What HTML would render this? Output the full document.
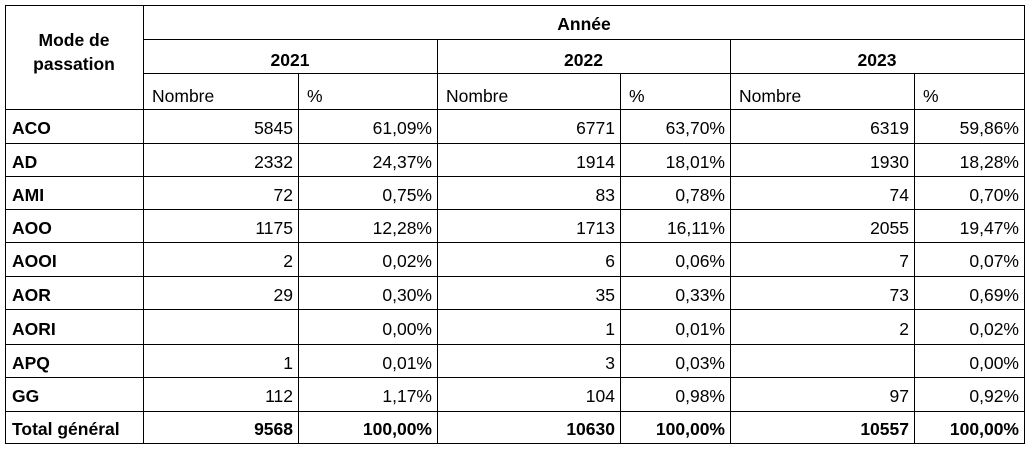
<!DOCTYPE html>
<html><head><meta charset="utf-8"><style>
body{margin:0;width:1032px;height:450px;background:#fff;position:relative;overflow:hidden;font-family:"Liberation Sans",Arial,sans-serif;font-size:17.5px;color:#000}
.h{position:absolute;height:1px;background:#000}
.v{position:absolute;width:1px;background:#000}
.t{position:absolute;line-height:20px;white-space:nowrap}
.b{font-weight:bold}
.r{text-align:right}
.c{text-align:center}
</style></head><body>
<div class="h" style="left:5px;top:5px;width:1020px"></div>
<div class="h" style="left:143px;top:39px;width:882px"></div>
<div class="h" style="left:143px;top:73px;width:882px"></div>
<div class="h" style="left:5px;top:109px;width:1020px"></div>
<div class="h" style="left:5px;top:143px;width:1020px"></div>
<div class="h" style="left:5px;top:176px;width:1020px"></div>
<div class="h" style="left:5px;top:209px;width:1020px"></div>
<div class="h" style="left:5px;top:242px;width:1020px"></div>
<div class="h" style="left:5px;top:276px;width:1020px"></div>
<div class="h" style="left:5px;top:309px;width:1020px"></div>
<div class="h" style="left:5px;top:344px;width:1020px"></div>
<div class="h" style="left:5px;top:377px;width:1020px"></div>
<div class="h" style="left:5px;top:411px;width:1020px"></div>
<div class="h" style="left:5px;top:443px;width:1020px"></div>
<div class="v" style="left:5px;top:5px;height:439px"></div>
<div class="v" style="left:143px;top:5px;height:439px"></div>
<div class="v" style="left:437px;top:39px;height:405px"></div>
<div class="v" style="left:730px;top:39px;height:405px"></div>
<div class="v" style="left:1024px;top:5px;height:439px"></div>
<div class="v" style="left:298px;top:73px;height:371px"></div>
<div class="v" style="left:620px;top:73px;height:371px"></div>
<div class="v" style="left:914px;top:73px;height:371px"></div>
<div class="t b c" style="left:5px;width:138px;top:28px;line-height:24px">Mode de<br>passation</div>
<div class="t b c" style="left:143px;width:882px;top:14px">Année</div>
<div class="t b c" style="left:143px;width:294px;top:50px">2021</div>
<div class="t b c" style="left:437px;width:293px;top:50px">2022</div>
<div class="t b c" style="left:730px;width:294px;top:50px">2023</div>
<div class="t" style="left:152px;top:86px">Nombre</div>
<div class="t" style="left:307px;top:86px">%</div>
<div class="t" style="left:446px;top:86px">Nombre</div>
<div class="t" style="left:629px;top:86px">%</div>
<div class="t" style="left:739px;top:86px">Nombre</div>
<div class="t" style="left:923px;top:86px">%</div>
<div id="rows"></div>
<script>
var d=[["ACO","5845","61,09%","6771","63,70%","6319","59,86%"],
["AD","2332","24,37%","1914","18,01%","1930","18,28%"],
["AMI","72","0,75%","83","0,78%","74","0,70%"],
["AOO","1175","12,28%","1713","16,11%","2055","19,47%"],
["AOOI","2","0,02%","6","0,06%","7","0,07%"],
["AOR","29","0,30%","35","0,33%","73","0,69%"],
["AORI","","0,00%","1","0,01%","2","0,02%"],
["APQ","1","0,01%","3","0,03%","","0,00%"],
["GG","112","1,17%","104","0,98%","97","0,92%"],
["Total général","9568","100,00%","10630","100,00%","10557","100,00%"]];
var tops=[109,143,176,209,242,276,309,344,377,411,443];
var ends=[298,437,620,730,914,1024];
var h="";
d.forEach(function(r,i){
 var y=(tops[i]+tops[i+1])/2-8;
 var bold=i==9?" b":"";
 h+='<div class="t b" style="left:12px;top:'+y+'px">'+r[0]+'</div>';
 for(var j=1;j<7;j++){
  h+='<div class="t r'+bold+'" style="right:'+(1032-ends[j-1]+5)+'px;top:'+y+'px">'+r[j]+'</div>';
 }
});
document.getElementById("rows").innerHTML=h;
</script>
</body></html>
